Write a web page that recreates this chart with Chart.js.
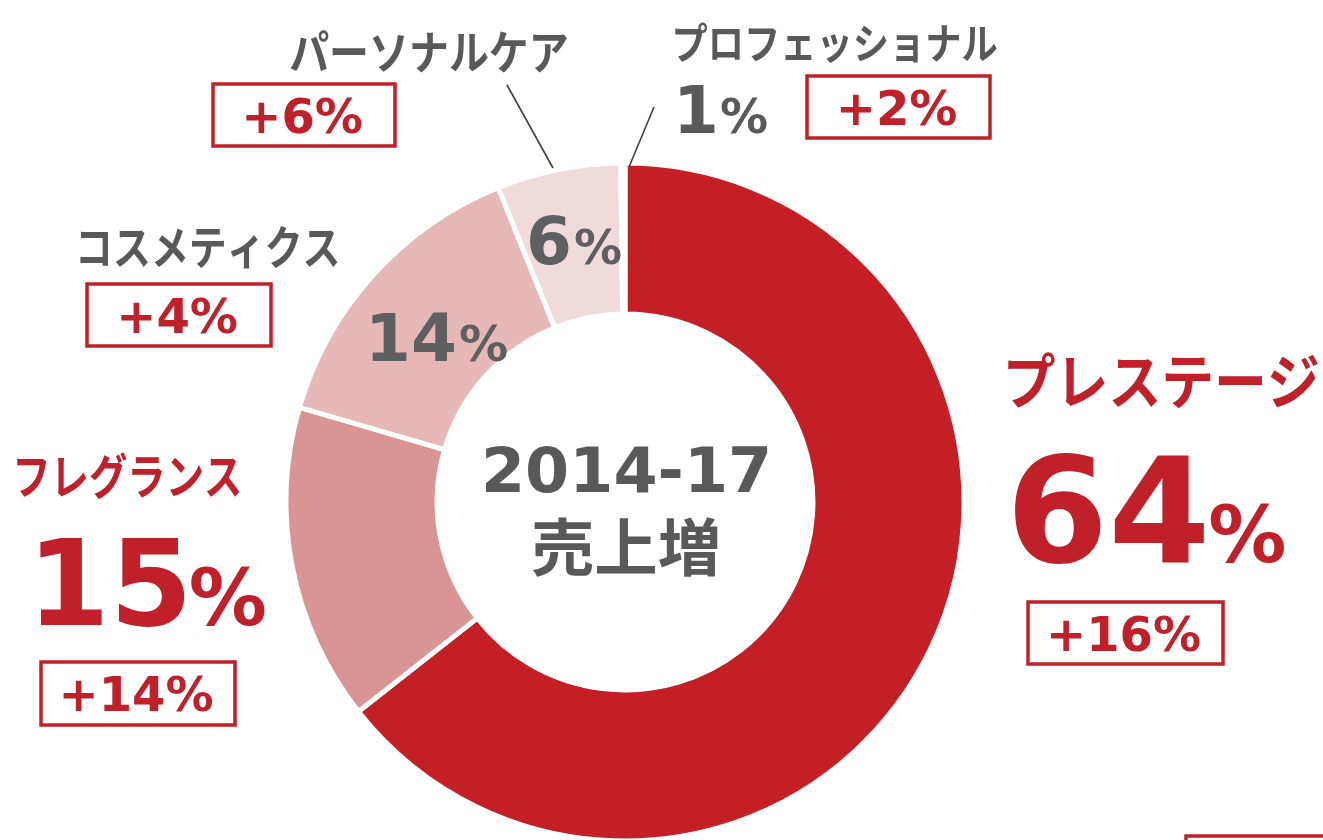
<!DOCTYPE html>
<html lang="ja">
<head>
<meta charset="utf-8">
<script src="https://cdn.jsdelivr.net/npm/chart.js@4.4.0/dist/chart.umd.min.js"></script>
<style>
html, body { margin: 0; padding: 0; background: #fff; }
#wrap { position: relative; width: 1323px; height: 840px; }
</style>
</head>
<body>
<div id="wrap"><canvas id="chart"></canvas></div>
<script>
// data
const categories = ['プレステージ', 'フレグランス', 'コスメティクス', 'パーソナルケア', 'プロフェッショナル'];
const shareValues = [64.4, 15.1, 14.4, 5.9, 0.2];
const shareLabels = ['64', '15', '14', '6', '1'];
const growthLabels = ['+16%', '+14%', '+4%', '+6%', '+2%'];
const centerLines = ['2014-17', '売上増'];

const sliceColors = ['#C41F27', '#D99594', '#E6B8B8', '#F0DBDB', '#F0DBDB'];
const RED = '#C0202A';
const GRAY = '#595959';
const NUMGRAY = '#5E5F61';
const JP = '"Noto Sans CJK JP", sans-serif';
const NUM = '"DejaVu Sans", Verdana, sans-serif';

// where each category's labels sit (ink boxes)
const labelLayout = [
  { name: [1008, 352, 310, 60, RED], num: [1015, 453, 147, 78, RED], box: [1028, 602, 195, 62] },
  { name: [17, 452, 223, 48, RED], num: [40, 538, 119, 78, RED], box: [41, 662, 194, 63] },
  { name: [80, 225, 258, 46, GRAY], num: [372, 312, 66, 49, NUMGRAY], box: [87, 284, 184, 62] },
  { name: [290, 30, 277, 46, GRAY], num: [530, 215, 66, 48, NUMGRAY], box: [213, 84, 182, 62] },
  { name: [675, 22, 322, 42, GRAY], num: [680, 85, 66, 48, GRAY], box: [807, 76, 183, 62] }
];

function inkText(ctx, text, font, color, left, top, width) {
  ctx.font = font;
  ctx.fillStyle = color;
  ctx.textAlign = 'left';
  ctx.textBaseline = 'alphabetic';
  const m = ctx.measureText(text);
  const inkW = m.actualBoundingBoxLeft + m.actualBoundingBoxRight;
  const sx = width ? width / inkW : 1;
  ctx.save();
  ctx.translate(left, top + m.actualBoundingBoxAscent);
  ctx.scale(sx, 1);
  ctx.fillText(text, m.actualBoundingBoxLeft, 0);
  ctx.restore();
}

function pctText(ctx, digits, big, small, color, left, top) {
  ctx.font = 'bold ' + big + 'px ' + NUM;
  ctx.fillStyle = color;
  ctx.textAlign = 'left';
  ctx.textBaseline = 'alphabetic';
  const m = ctx.measureText(digits);
  const x = left + m.actualBoundingBoxLeft;
  const y = top + m.actualBoundingBoxAscent;
  ctx.fillText(digits, x, y);
  const right = x + m.actualBoundingBoxRight;
  ctx.font = 'bold ' + small + 'px ' + NUM;
  const p = ctx.measureText('%');
  ctx.fillText('%', right + 6 + p.actualBoundingBoxLeft, y);
}

function boxText(ctx, text, x, y, w, h) {
  ctx.strokeStyle = RED;
  ctx.lineWidth = 3.5;
  ctx.strokeRect(x, y, w, h);
  ctx.font = 'bold 48px ' + NUM;
  ctx.fillStyle = RED;
  ctx.textAlign = 'left';
  ctx.textBaseline = 'alphabetic';
  const m = ctx.measureText(text);
  const cx = x + w / 2, cy = y + h / 2;
  ctx.fillText(text,
    cx - (m.actualBoundingBoxRight - m.actualBoundingBoxLeft) / 2,
    cy - (m.actualBoundingBoxDescent - m.actualBoundingBoxAscent) / 2);
}

const labelPlugin = {
  id: 'labels',
  afterDraw(chart) {
    const ctx = chart.ctx;
    ctx.save();
    // leader lines
    ctx.strokeStyle = '#404040';
    ctx.lineWidth = 1.6;
    ctx.beginPath();
    ctx.moveTo(507, 85); ctx.lineTo(553, 168);
    ctx.moveTo(654, 107); ctx.lineTo(629, 167);
    ctx.stroke();

    categories.forEach((name, i) => {
      const L = labelLayout[i];
      const n = L.name;
      inkText(ctx, name, 'bold ' + n[3] + 'px ' + JP, n[4], n[0], n[1], n[2]);
      const p = L.num;
      pctText(ctx, shareLabels[i], p[2], p[3], p[4], p[0], p[1]);
      const b = L.box;
      boxText(ctx, growthLabels[i], b[0], b[1], b[2], b[3]);
    });

    // box cut off at the bottom edge
    ctx.strokeStyle = RED;
    ctx.lineWidth = 3.5;
    ctx.strokeRect(1186, 836, 200, 60);

    // centre text
    inkText(ctx, centerLines[0], 'bold 62px ' + NUM, GRAY, 485, 445, 283);
    inkText(ctx, centerLines[1], 'bold 62px ' + JP, GRAY, 532, 517, 186);
    ctx.restore();
  }
};

new Chart(document.getElementById('chart'), {
  type: 'doughnut',
  data: {
    labels: categories,
    datasets: [{
      data: shareValues,
      backgroundColor: sliceColors,
      borderColor: '#ffffff',
      borderWidth: 5
    }]
  },
  options: {
    responsive: true,
    maintainAspectRatio: false,
    animation: false,
    radius: 339,
    cutout: 186,
    layout: { padding: { left: 0, right: 73, top: 164, bottom: 0 } },
    plugins: {
      legend: { display: false },
      tooltip: { enabled: false }
    }
  },
  plugins: [labelPlugin]
});
</script>
</body>
</html>
